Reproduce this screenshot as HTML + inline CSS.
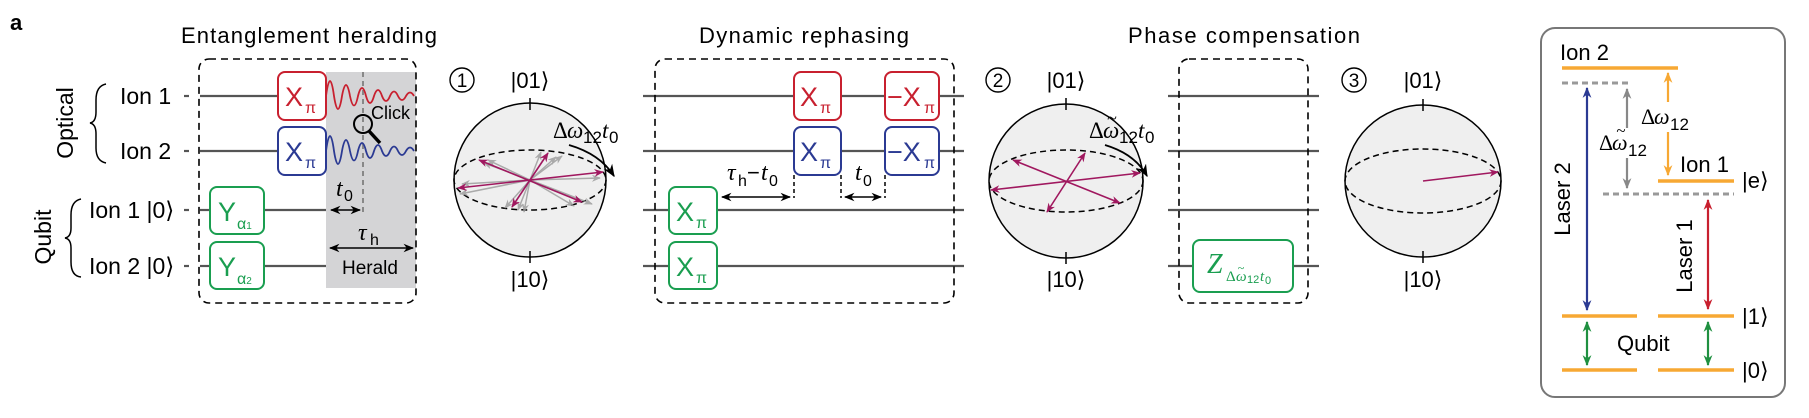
<!DOCTYPE html>
<html><head><meta charset="utf-8"><style>
html,body{margin:0;padding:0;background:#fff;}
svg{display:block;font-family:"Liberation Sans",Arial,sans-serif;}
.s{font-family:"Liberation Serif",serif;font-style:italic;}
</style></head><body>
<svg width="1809" height="418" viewBox="0 0 1809 418" xmlns="http://www.w3.org/2000/svg">
<defs>
<marker id="ak" viewBox="0 0 10 10" refX="9" refY="5" markerWidth="7" markerHeight="7" orient="auto-start-reverse"><path d="M0,1 L10,5 L0,9 L3,5z" fill="#000"/></marker>
<marker id="ap" viewBox="0 0 10 10" refX="9" refY="5" markerWidth="6" markerHeight="6" orient="auto-start-reverse"><path d="M0,1 L10,5 L0,9 L3,5z" fill="#a0185f"/></marker>
<marker id="ag" viewBox="0 0 10 10" refX="9" refY="5" markerWidth="6" markerHeight="6" orient="auto-start-reverse"><path d="M0,1 L10,5 L0,9 L3,5z" fill="#999"/></marker>
<marker id="ab" viewBox="0 0 10 10" refX="9" refY="5" markerWidth="5" markerHeight="5" orient="auto-start-reverse"><path d="M0,1 L10,5 L0,9 L3,5z" fill="#2b3a93"/></marker>
<marker id="ar" viewBox="0 0 10 10" refX="9" refY="5" markerWidth="5" markerHeight="5" orient="auto-start-reverse"><path d="M0,1 L10,5 L0,9 L3,5z" fill="#c8202f"/></marker>
<marker id="ao" viewBox="0 0 10 10" refX="9" refY="5" markerWidth="5" markerHeight="5" orient="auto-start-reverse"><path d="M0,1 L10,5 L0,9 L3,5z" fill="#f7a833"/></marker>
<marker id="agr" viewBox="0 0 10 10" refX="9" refY="5" markerWidth="5" markerHeight="5" orient="auto-start-reverse"><path d="M0,1 L10,5 L0,9 L3,5z" fill="#888"/></marker>
<marker id="agn" viewBox="0 0 10 10" refX="9" refY="5" markerWidth="5" markerHeight="5" orient="auto-start-reverse"><path d="M0,1 L10,5 L0,9 L3,5z" fill="#1f9040"/></marker>
</defs>

<text x="10" y="30" font-size="22" font-weight="bold">a</text>

<text x="181" y="43" font-size="22" textLength="256">Entanglement heralding</text>
<text x="699" y="43" font-size="22" textLength="210">Dynamic rephasing</text>
<text x="1128" y="43" font-size="22" textLength="232">Phase compensation</text>

<text x="65" y="123" font-size="23" text-anchor="middle" transform="rotate(-90 65 123)" dy="8">Optical</text>
<text x="43" y="237" font-size="23" text-anchor="middle" transform="rotate(-90 43 237)" dy="8">Qubit</text>
<path d="M106,84 Q96,86 96,100 L96,112 Q96,122 90,123 Q96,124 96,134 L96,148 Q96,161 106,163" fill="none" stroke="#000" stroke-width="1.5"/>
<path d="M81,199 Q71,201 71,215 L71,228 Q71,237 65,238 Q71,239 71,248 L71,262 Q71,276 81,277" fill="none" stroke="#000" stroke-width="1.5"/>
<text x="120" y="104" font-size="23">Ion 1</text>
<text x="120" y="159" font-size="23">Ion 2</text>
<text x="89" y="218" font-size="23">Ion 1 |0⟩</text>
<text x="89" y="274" font-size="23">Ion 2 |0⟩</text>

<g stroke="#555" stroke-width="2.2">
<line x1="184" y1="96" x2="192" y2="96" stroke-dasharray="5,3"/><line x1="200" y1="96" x2="278" y2="96"/>
<line x1="184" y1="151" x2="192" y2="151" stroke-dasharray="5,3"/><line x1="200" y1="151" x2="278" y2="151"/>
<line x1="184" y1="210" x2="192" y2="210" stroke-dasharray="5,3"/><line x1="200" y1="210" x2="210" y2="210"/><line x1="264" y1="210" x2="326" y2="210"/>
<line x1="184" y1="266" x2="192" y2="266" stroke-dasharray="5,3"/><line x1="200" y1="266" x2="210" y2="266"/><line x1="264" y1="266" x2="326" y2="266"/>
<line x1="643" y1="96" x2="964" y2="96"/><line x1="643" y1="151" x2="964" y2="151"/>
<line x1="643" y1="210" x2="964" y2="210"/><line x1="643" y1="266" x2="964" y2="266"/>
<line x1="1168" y1="96" x2="1319" y2="96"/><line x1="1168" y1="151" x2="1319" y2="151"/>
<line x1="1168" y1="210" x2="1319" y2="210"/><line x1="1168" y1="266" x2="1319" y2="266"/>
</g>

<rect x="326" y="72" width="90" height="216" fill="#d4d4d6"/>
<line x1="363" y1="72" x2="363" y2="212" stroke="#888" stroke-width="2" stroke-dasharray="5,4"/>
<path d="M326,96 Q330,66 334,96 Q338,122 342,96 Q346,74 350,96 Q354,115 358,96 Q362,80 366,96 Q370,110 374,96 Q378,84 382,96 Q386,106 390,96 Q394,87 398,96 Q402,104 406,96 Q410,89 414,96" fill="none" stroke="#c8202f" stroke-width="1.8"/>
<path d="M326,151 Q330,121 334,151 Q338,177 342,151 Q346,129 350,151 Q354,170 358,151 Q362,135 366,151 Q370,165 374,151 Q378,139 382,151 Q386,161 390,151 Q394,142 398,151 Q402,159 406,151 Q410,144 414,151" fill="none" stroke="#2b3a93" stroke-width="1.8"/>
<text x="371" y="119" font-size="18">Click</text>
<circle cx="363" cy="124" r="9" fill="none" stroke="#000" stroke-width="2"/>
<line x1="369" y1="131" x2="380" y2="143" stroke="#000" stroke-width="3.5"/>
<line x1="331" y1="210" x2="360" y2="210" stroke="#000" stroke-width="1.5" marker-start="url(#ak)" marker-end="url(#ak)"/>
<text x="336" y="196" font-size="24" class="s">t</text><text x="344" y="201" font-size="16">0</text>
<text x="358" y="240" font-size="24" class="s">τ</text><text x="370" y="245" font-size="16">h</text>
<line x1="330" y1="248" x2="413" y2="248" stroke="#000" stroke-width="1.5" marker-start="url(#ak)" marker-end="url(#ak)"/>
<text x="342" y="274" font-size="19">Herald</text>

<g fill="none" stroke="#000" stroke-width="1.6" stroke-dasharray="7,5">
<rect x="199" y="59" width="217" height="244" rx="10"/>
<rect x="655" y="59" width="299" height="244" rx="10"/>
<rect x="1179" y="59" width="129" height="244" rx="10"/>
</g>

<g stroke-width="2" fill="#fff">
<rect x="278" y="72" width="48" height="48" rx="7" stroke="#c8202f"/>
<rect x="278" y="127" width="48" height="48" rx="7" stroke="#2b3a93"/>
<rect x="210" y="187" width="54" height="47" rx="7" stroke="#1a9e50"/>
<rect x="210" y="242" width="54" height="47" rx="7" stroke="#1a9e50"/>
<rect x="794" y="72" width="47" height="48" rx="7" stroke="#c8202f"/>
<rect x="885" y="72" width="54" height="48" rx="7" stroke="#c8202f"/>
<rect x="794" y="127" width="47" height="48" rx="7" stroke="#2b3a93"/>
<rect x="885" y="127" width="54" height="48" rx="7" stroke="#2b3a93"/>
<rect x="669" y="187" width="48" height="47" rx="7" stroke="#1a9e50"/>
<rect x="669" y="242" width="48" height="47" rx="7" stroke="#1a9e50"/>
<rect x="1193" y="240" width="100" height="52" rx="7" stroke="#1a9e50"/>
</g>
<g font-size="27">
<text x="285" y="106" fill="#c8202f">X</text><text x="305" y="113" fill="#c8202f" font-size="16">π</text>
<text x="285" y="161" fill="#2b3a93">X</text><text x="305" y="168" fill="#2b3a93" font-size="16">π</text>
<text x="218" y="221" fill="#1a9e50">Y</text><text x="237" y="229" fill="#1a9e50" font-size="16">α<tspan font-size="10">1</tspan></text>
<text x="218" y="276" fill="#1a9e50">Y</text><text x="237" y="284" fill="#1a9e50" font-size="16">α<tspan font-size="10">2</tspan></text>
<text x="800" y="106" fill="#c8202f">X</text><text x="820" y="113" fill="#c8202f" font-size="16">π</text>
<text x="887" y="106" fill="#c8202f">−X</text><text x="924" y="113" fill="#c8202f" font-size="16">π</text>
<text x="800" y="161" fill="#2b3a93">X</text><text x="820" y="168" fill="#2b3a93" font-size="16">π</text>
<text x="887" y="161" fill="#2b3a93">−X</text><text x="924" y="168" fill="#2b3a93" font-size="16">π</text>
<text x="676" y="221" fill="#1a9e50">X</text><text x="696" y="228" fill="#1a9e50" font-size="16">π</text>
<text x="676" y="276" fill="#1a9e50">X</text><text x="696" y="283" fill="#1a9e50" font-size="16">π</text>
<text x="1207" y="273" fill="#1a9e50" class="s" font-size="28">Z</text>
</g>
<g fill="#1a9e50">
<text x="1226" y="281" font-size="15" font-family="Liberation Serif">Δ</text>
<text x="1236" y="281" font-size="15" class="s">ω</text>
<text x="1241" y="272" font-size="12" text-anchor="middle" font-family="Liberation Serif">~</text>
<text x="1247" y="283" font-size="11">12</text>
<text x="1260" y="281" font-size="15" class="s">t</text>
<text x="1265" y="284" font-size="11">0</text>
</g>

<g stroke="#000" stroke-width="1.5" stroke-dasharray="4,3" fill="none">
<line x1="794" y1="175" x2="794" y2="198"/><line x1="841" y1="175" x2="841" y2="198"/><line x1="885" y1="175" x2="885" y2="198"/>
</g>
<line x1="722" y1="197" x2="790" y2="197" stroke="#000" stroke-width="1.5" marker-start="url(#ak)" marker-end="url(#ak)"/>
<line x1="845" y1="197" x2="881" y2="197" stroke="#000" stroke-width="1.5" marker-start="url(#ak)" marker-end="url(#ak)"/>
<text x="727" y="180" font-size="24" class="s">τ</text><text x="738" y="186" font-size="16">h</text><text x="747" y="180" font-size="22">−</text><text x="761" y="180" font-size="24" class="s">t</text><text x="769" y="186" font-size="16">0</text>
<text x="855" y="180" font-size="24" class="s">t</text><text x="863" y="186" font-size="16">0</text>

<g fill="none" stroke="#000" stroke-width="1.4">
<circle cx="462" cy="80" r="12"/><circle cx="998" cy="80" r="12"/><circle cx="1354" cy="80" r="12"/>
</g>
<g font-size="19" text-anchor="middle">
<text x="462" y="87">1</text><text x="998" y="87">2</text><text x="1354" y="87">3</text>
</g>

<g font-size="22" text-anchor="middle">
<text x="530" y="88">|01⟩</text><text x="530" y="287">|10⟩</text>
<text x="1066" y="88">|01⟩</text><text x="1066" y="287">|10⟩</text>
<text x="1423" y="88">|01⟩</text><text x="1423" y="287">|10⟩</text>
</g>
<g stroke="#000" stroke-width="1.5">
<ellipse cx="530" cy="180" rx="76" ry="77" fill="#efefef"/>
<ellipse cx="1066" cy="181" rx="77" ry="77" fill="#efefef"/>
<ellipse cx="1423" cy="181" rx="78" ry="76" fill="#efefef"/>
<line x1="530" y1="98" x2="530" y2="110"/><line x1="530" y1="251" x2="530" y2="263"/>
<line x1="1066" y1="98" x2="1066" y2="110"/><line x1="1066" y1="252" x2="1066" y2="264"/>
<line x1="1423" y1="99" x2="1423" y2="111"/><line x1="1423" y1="251" x2="1423" y2="263"/>
</g>
<g fill="none" stroke="#000" stroke-width="1.5" stroke-dasharray="6,4">
<ellipse cx="530" cy="180" rx="76" ry="30"/>
<ellipse cx="1066" cy="181" rx="77" ry="31"/>
<ellipse cx="1423" cy="181" rx="78" ry="32"/>
</g>
<g stroke="#999" stroke-width="1.5" opacity="0.8" fill="none">
<line x1="530" y1="180" x2="484" y2="163" marker-end="url(#ag)"/>
<line x1="530" y1="180" x2="556" y2="157" marker-end="url(#ag)"/>
<line x1="530" y1="180" x2="562" y2="156" marker-end="url(#ag)"/>
<line x1="530" y1="180" x2="541" y2="152" marker-end="url(#ag)"/>
<line x1="530" y1="180" x2="600" y2="178" marker-end="url(#ag)"/>
<line x1="530" y1="180" x2="592" y2="204" marker-end="url(#ag)"/>
<line x1="530" y1="180" x2="574" y2="206" marker-end="url(#ag)"/>
<line x1="530" y1="180" x2="518" y2="210" marker-end="url(#ag)"/>
<line x1="530" y1="180" x2="524" y2="212" marker-end="url(#ag)"/>
<line x1="530" y1="180" x2="505" y2="208" marker-end="url(#ag)"/>
<line x1="530" y1="180" x2="460" y2="194" marker-end="url(#ag)"/>
<line x1="530" y1="180" x2="462" y2="184" marker-end="url(#ag)"/>
<line x1="530" y1="180" x2="488" y2="160" marker-end="url(#ag)"/>
</g>
<g stroke="#a0185f" stroke-width="1.6">
<line x1="479" y1="160" x2="582" y2="202" marker-start="url(#ap)" marker-end="url(#ap)"/>
<line x1="548" y1="153" x2="512" y2="207" marker-start="url(#ap)" marker-end="url(#ap)"/>
<line x1="458" y1="188" x2="603" y2="172" marker-start="url(#ap)" marker-end="url(#ap)"/>
<line x1="1013" y1="160" x2="1120" y2="203" marker-start="url(#ap)" marker-end="url(#ap)"/>
<line x1="1085" y1="153" x2="1047" y2="212" marker-start="url(#ap)" marker-end="url(#ap)"/>
<line x1="991" y1="190" x2="1140" y2="173" marker-start="url(#ap)" marker-end="url(#ap)"/>
<line x1="1423" y1="181" x2="1498" y2="172" marker-end="url(#ap)"/>
</g>
<path d="M569,145 Q600,154 614,176" fill="none" stroke="#000" stroke-width="1.8" marker-end="url(#ak)"/>
<path d="M1105,145 Q1135,154 1147,176" fill="none" stroke="#000" stroke-width="1.8" marker-end="url(#ak)"/>

<!-- Δω12 t0 sphere1 -->
<text x="553" y="138" font-size="23" font-family="Liberation Serif">Δ</text>
<text x="567" y="138" font-size="23" class="s">ω</text>
<text x="583" y="143" font-size="17">12</text>
<text x="602" y="138" font-size="23" class="s">t</text>
<text x="609" y="143" font-size="17">0</text>
<!-- Δω̃12 t0 sphere2 -->
<text x="1089" y="138" font-size="23" font-family="Liberation Serif">Δ</text>
<text x="1103" y="138" font-size="23" class="s">ω</text>
<text x="1112" y="124" font-size="18" text-anchor="middle" font-family="Liberation Serif">~</text>
<text x="1119" y="143" font-size="17">12</text>
<text x="1138" y="138" font-size="23" class="s">t</text>
<text x="1145" y="143" font-size="17">0</text>

<rect x="1541" y="28" width="244" height="369" rx="14" fill="none" stroke="#777" stroke-width="2"/>
<text x="1560" y="60" font-size="22">Ion 2</text>
<text x="1680" y="172" font-size="22">Ion 1</text>
<g stroke="#f7a833" stroke-width="3.5">
<line x1="1562" y1="68" x2="1678" y2="68"/>
<line x1="1658" y1="181" x2="1734" y2="181"/>
<line x1="1562" y1="316" x2="1637" y2="316"/><line x1="1658" y1="316" x2="1734" y2="316"/>
<line x1="1562" y1="370" x2="1637" y2="370"/><line x1="1658" y1="370" x2="1734" y2="370"/>
</g>
<g stroke="#999" stroke-width="3" stroke-dasharray="6,4">
<line x1="1562" y1="83" x2="1631" y2="83"/>
<line x1="1603" y1="194" x2="1734" y2="194"/>
</g>
<line x1="1587" y1="88" x2="1587" y2="310" stroke="#2b3a93" stroke-width="2.2" marker-start="url(#ab)" marker-end="url(#ab)"/>
<line x1="1627" y1="89" x2="1627" y2="188" stroke="#888" stroke-width="2.2" marker-start="url(#agr)" marker-end="url(#agr)"/>
<line x1="1668" y1="73" x2="1668" y2="175" stroke="#f7a833" stroke-width="2.2" marker-start="url(#ao)" marker-end="url(#ao)"/>
<line x1="1708" y1="200" x2="1708" y2="309" stroke="#c8202f" stroke-width="2.2" marker-start="url(#ar)" marker-end="url(#ar)"/>
<line x1="1587" y1="322" x2="1587" y2="365" stroke="#1f9040" stroke-width="2.2" marker-start="url(#agn)" marker-end="url(#agn)"/>
<line x1="1708" y1="322" x2="1708" y2="365" stroke="#1f9040" stroke-width="2.2" marker-start="url(#agn)" marker-end="url(#agn)"/>
<rect x="1638" y="102" width="56" height="30" fill="#fff"/>
<text x="1641" y="124" font-size="22" font-family="Liberation Serif">Δ</text>
<text x="1654" y="124" font-size="22" class="s">ω</text>
<text x="1670" y="130" font-size="17">12</text>
<rect x="1598" y="128" width="56" height="30" fill="#fff"/>
<text x="1599" y="150" font-size="22" font-family="Liberation Serif">Δ</text>
<text x="1612" y="150" font-size="22" class="s">ω</text>
<text x="1621" y="136" font-size="17" text-anchor="middle" font-family="Liberation Serif">~</text>
<text x="1628" y="156" font-size="17">12</text>
<text x="1563" y="199" font-size="22" text-anchor="middle" transform="rotate(-90 1563 199)" dy="7">Laser 2</text>
<text x="1685" y="256" font-size="22" text-anchor="middle" transform="rotate(-90 1685 256)" dy="7">Laser 1</text>
<text x="1617" y="351" font-size="22">Qubit</text>
<text x="1742" y="188" font-size="22">|e⟩</text>
<text x="1742" y="324" font-size="22">|1⟩</text>
<text x="1742" y="378" font-size="22">|0⟩</text>
</svg>
</body></html>
